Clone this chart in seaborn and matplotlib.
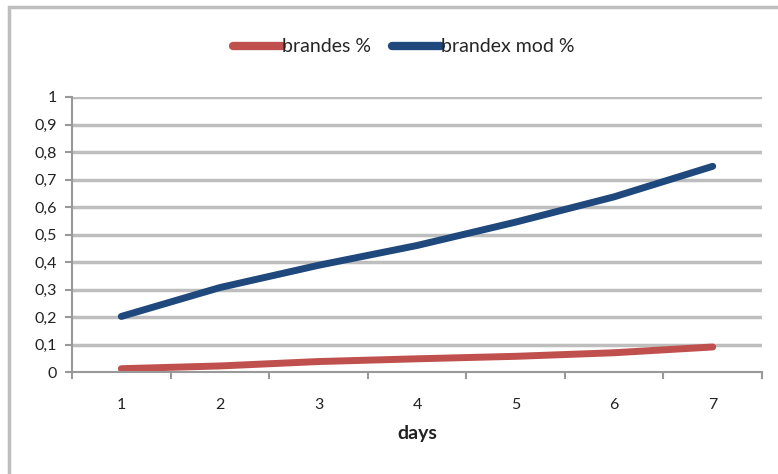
# line chart: brandes vs brandex mod, share per day
import pandas as pd
import matplotlib
matplotlib.use("Agg")
import matplotlib.pyplot as plt
import seaborn as sns
from matplotlib.patches import Rectangle
from matplotlib.ticker import FixedLocator

days = [1, 2, 3, 4, 5, 6, 7]
brandes = [0.012, 0.022, 0.038, 0.048, 0.057, 0.070, 0.091]
brandex_mod = [0.202, 0.307, 0.388, 0.460, 0.545, 0.637, 0.748]
series_names = ["brandes %", "brandex mod %"]
y_ticks = [0, 0.1, 0.2, 0.3, 0.4, 0.5, 0.6, 0.7, 0.8, 0.9, 1]

df = pd.DataFrame({"days": days * 2,
                   "value": brandes + brandex_mod,
                   "series": [series_names[0]] * 7 + [series_names[1]] * 7})

sns.set_theme(style="white")
plt.rcParams["font.family"] = ["Lato", "DejaVu Sans"]

fig = plt.figure(figsize=(7.78, 4.74), dpi=100)
ax = fig.add_axes([72 / 778, 102 / 474, 690 / 778, 275 / 474])

grid_col = "#BEBEBE"
for t in y_ticks[1:]:
    ax.axhline(t, color=grid_col, lw=2.5, zorder=0)

sns.lineplot(data=df, x="days", y="value", hue="series",
             palette={"brandes %": "#C0504D", "brandex mod %": "#1F497D"},
             lw=5, ax=ax, legend=True)
for l in ax.get_lines():
    l.set_solid_capstyle("round")

ax.set_xlim(0.5, 7.5)
ax.set_ylim(0, 1)
ax.set_yticks(y_ticks)
ax.set_yticklabels(["0" if t == 0 else ("1" if t == 1 else f"{t:.1f}".replace(".", ",")) for t in y_ticks])
ax.set_xticks(days)
ax.xaxis.set_minor_locator(FixedLocator([d + 0.5 for d in [0] + days]))
ax.tick_params(axis="x", which="major", length=0, pad=19, labelsize=11.5, colors="#222222")
ax.tick_params(axis="x", which="minor", length=5, width=1.5, color="#999999", direction="out", bottom=True)
ax.tick_params(axis="y", length=5, width=1.5, color="#999999", direction="out", left=True, pad=6,
               labelsize=11.5, labelcolor="#222222")

for s in ["top", "right"]:
    ax.spines[s].set_visible(False)
for s in ["left", "bottom"]:
    ax.spines[s].set_color("#999999")
    ax.spines[s].set_linewidth(1.5)

ax.set_ylabel("")
ax.set_xlabel("days", fontsize=14, fontweight="bold", labelpad=9, color="#222222")

leg = ax.legend(loc="center", bbox_to_anchor=(404 / 778, (474 - 47) / 474), bbox_transform=fig.transFigure,
                ncol=2, frameon=False, fontsize=14, handlelength=2.5, handletextpad=0.0,
                columnspacing=1.1)
for h in leg.get_lines():
    h.set_linewidth(6)
    h.set_solid_capstyle("round")

# outer chart frame (cut off at right / bottom)
fig.add_artist(Rectangle((9 / 778, -0.2), 2.0, 1.2 - 7 / 474, transform=fig.transFigure,
                         fill=False, edgecolor=grid_col, lw=2.5))

plt.savefig("out.png", dpi=100)
